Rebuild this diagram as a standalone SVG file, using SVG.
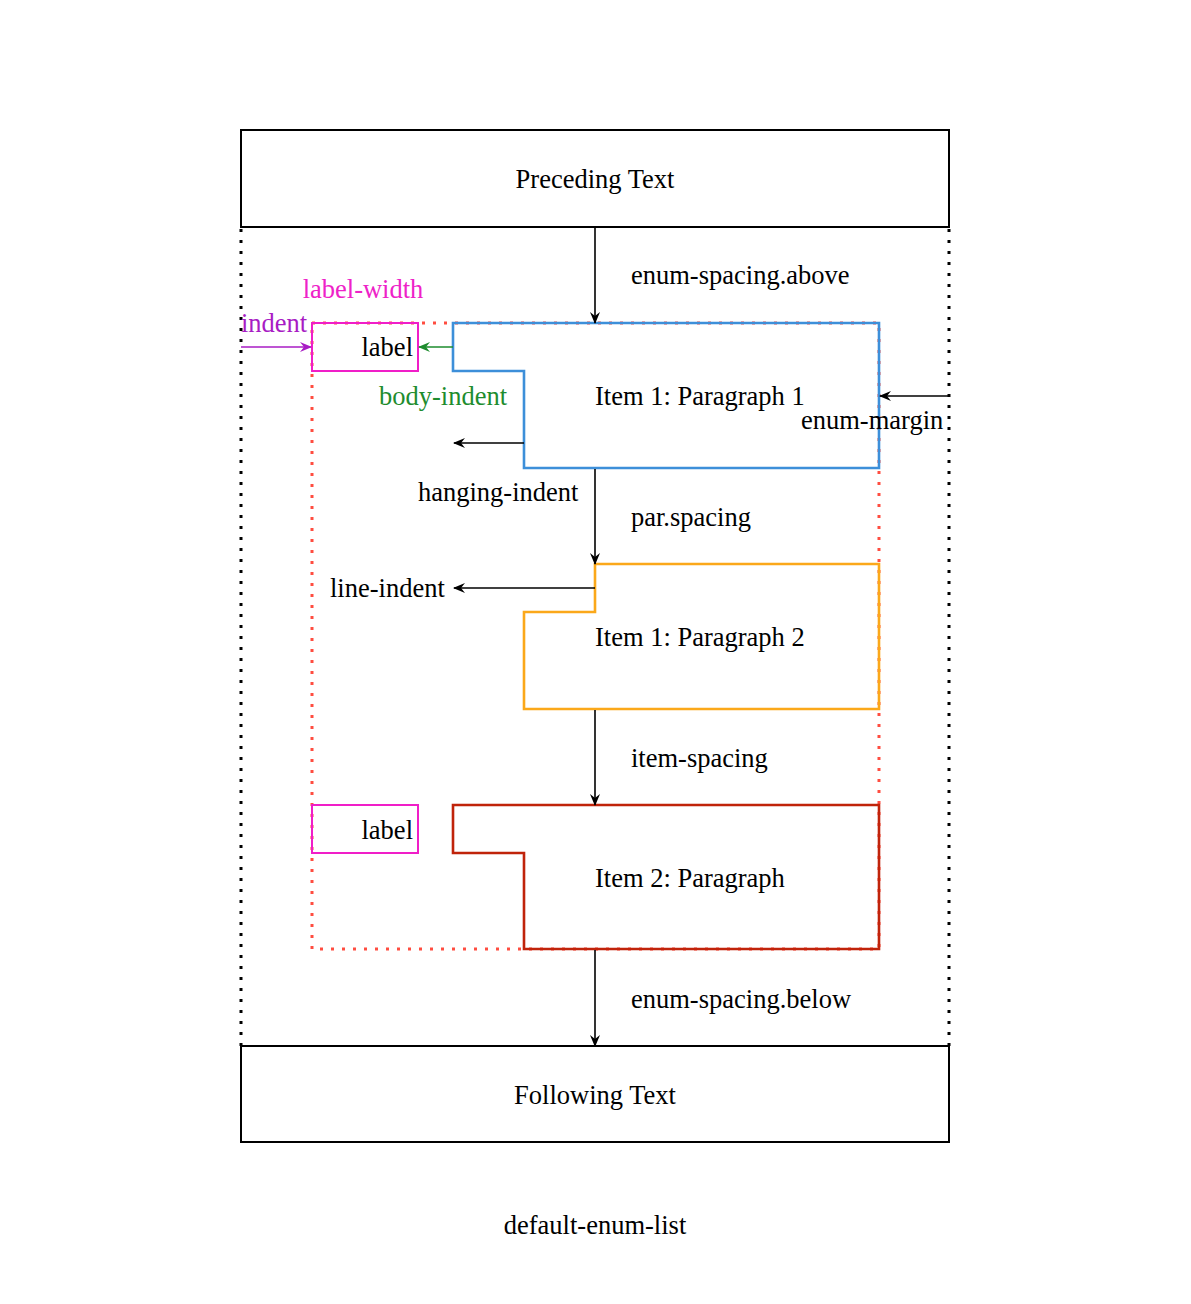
<svg xmlns="http://www.w3.org/2000/svg" width="1191" height="1304" viewBox="0 0 1191 1304">
<style>
text{font-family:"Liberation Serif","DejaVu Serif",serif;font-size:26.5px;fill:#000}
.mid{text-anchor:middle}
.end{text-anchor:end}
.box{fill:none;stroke:#000;stroke-width:2}
.dotk{fill:none;stroke:#000;stroke-width:3;stroke-dasharray:3 8}
.dotr{fill:none;stroke:#ff4d40;stroke-width:3;stroke-dasharray:3 8}
.shape{fill:none;stroke-width:2.6}
.lbl{fill:none;stroke:#f01ec8;stroke-width:2}
.arr{fill:none;stroke:#000;stroke-width:1.6;marker-end:url(#ak)}
</style>
<defs>
<marker id="ak" viewBox="0 0 12 10" refX="11" refY="5" markerWidth="12" markerHeight="10" markerUnits="userSpaceOnUse" orient="auto">
<path d="M0,0 L12,5 L0,10 L4,5 Z" fill="#000"/>
</marker>
<marker id="ap" viewBox="0 0 12 10" refX="11" refY="5" markerWidth="12" markerHeight="10" markerUnits="userSpaceOnUse" orient="auto">
<path d="M0,0 L12,5 L0,10 L4,5 Z" fill="#a81cc4"/>
</marker>
<marker id="ag" viewBox="0 0 12 10" refX="11" refY="5" markerWidth="12" markerHeight="10" markerUnits="userSpaceOnUse" orient="auto">
<path d="M0,0 L12,5 L0,10 L4,5 Z" fill="#1e8c2e"/>
</marker>
</defs>
<rect width="1191" height="1304" fill="#fff"/>

<g id="guides">
<line class="dotk" x1="241" y1="229" x2="241" y2="1046"/>
<line class="dotk" x1="949" y1="229" x2="949" y2="1046"/>
<rect class="dotr" x="312" y="323" width="567" height="626"/>
</g>

<g id="preceding">
<rect class="box" x="241" y="130" width="708" height="97"/>
<text class="mid" x="595" y="188">Preceding Text</text>
</g>

<g id="item1p1">
<path class="shape" stroke="#3d8fd9" d="M453,323 H879 V468 H524 V371 H453 Z"/>
<text x="595" y="405">Item 1: Paragraph 1</text>
</g>

<g id="label1">
<rect class="lbl" x="312" y="323" width="106" height="48"/>
<text class="end" x="413" y="356">label</text>
</g>

<g id="item1p2">
<path class="shape" stroke="#fba81a" d="M595,564 H879 V709 H524 V612 H595 Z"/>
<text x="595" y="646">Item 1: Paragraph 2</text>
</g>

<g id="item2">
<path class="shape" stroke="#c0230a" d="M453,805 H879 V949 H524 V853 H453 Z"/>
<text x="595" y="887">Item 2: Paragraph</text>
</g>

<g id="label2">
<rect class="lbl" x="312" y="805" width="106" height="48"/>
<text class="end" x="413" y="839">label</text>
</g>

<g id="following">
<rect class="box" x="241" y="1046" width="708" height="96"/>
<text class="mid" x="595" y="1104">Following Text</text>
</g>

<g id="connectors">
<line class="arr" x1="595" y1="228" x2="595" y2="323"/>
<line class="arr" x1="595" y1="469" x2="595" y2="564"/>
<line class="arr" x1="595" y1="710" x2="595" y2="805"/>
<line class="arr" x1="595" y1="950" x2="595" y2="1046"/>
<line class="arr" x1="949" y1="396" x2="880" y2="396"/>
<line class="arr" x1="524" y1="443" x2="454" y2="443"/>
<line class="arr" x1="595" y1="588" x2="454" y2="588"/>
<line fill="none" stroke="#a81cc4" stroke-width="1.6" marker-end="url(#ap)" x1="241" y1="347" x2="311" y2="347"/>
<line fill="none" stroke="#1e8c2e" stroke-width="1.6" marker-end="url(#ag)" x1="453" y1="347" x2="419" y2="347"/>
</g>

<g id="labels">
<text x="631" y="284">enum-spacing.above</text>
<text class="mid" x="363" y="298" style="fill:#ee22c8">label-width</text>
<text x="241" y="332" style="fill:#a81cc4">indent</text>
<text x="379" y="405" style="fill:#1e8c2e">body-indent</text>
<text x="801" y="429">enum-margin</text>
<text x="418" y="501">hanging-indent</text>
<text x="631" y="526">par.spacing</text>
<text x="330" y="597">line-indent</text>
<text x="631" y="767">item-spacing</text>
<text x="631" y="1008">enum-spacing.below</text>
<text class="mid" x="595" y="1234">default-enum-list</text>
</g>
</svg>
